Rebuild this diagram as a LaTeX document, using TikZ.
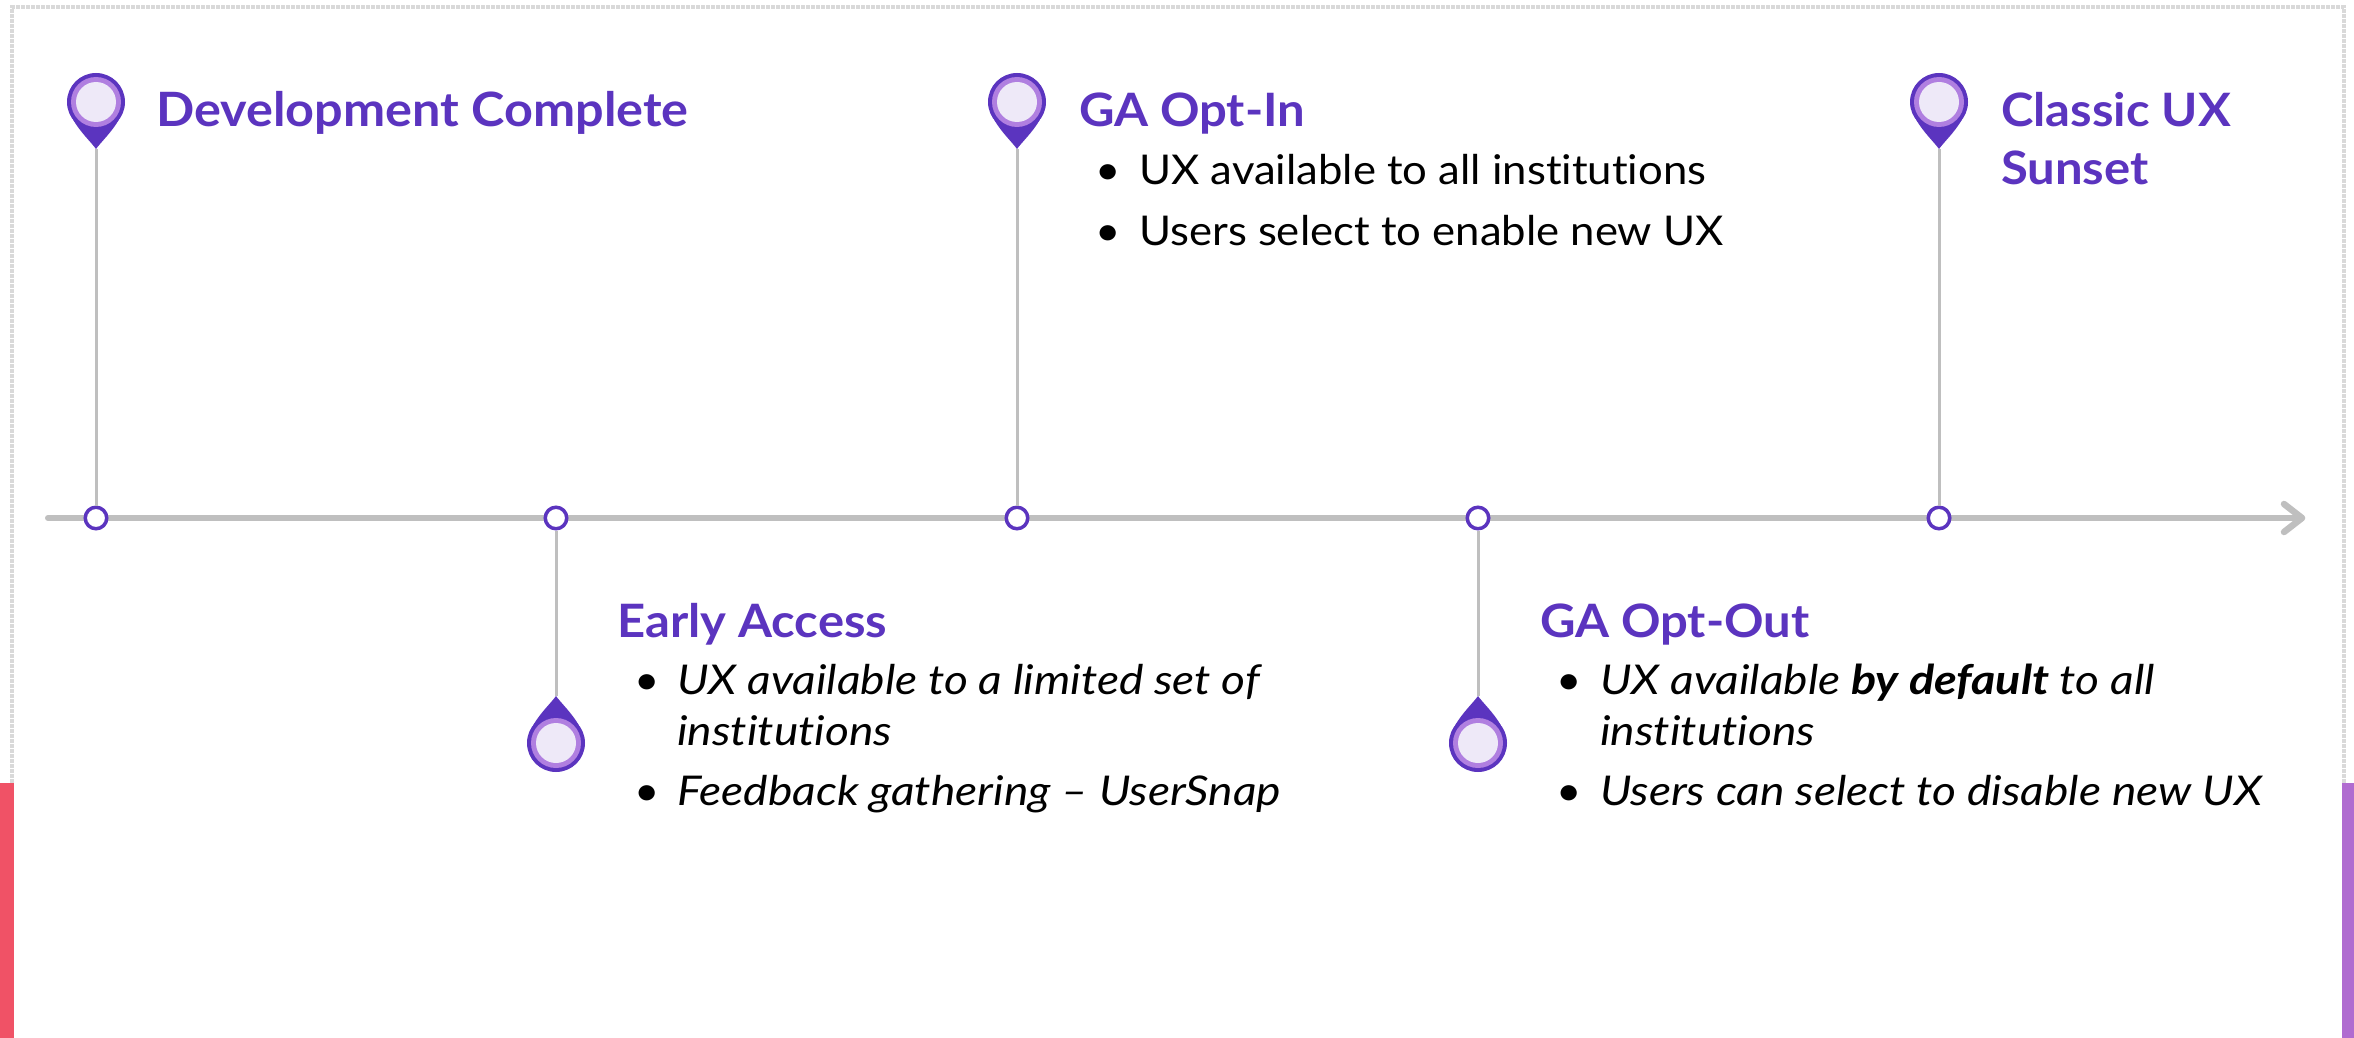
\documentclass[tikz,border=0pt]{standalone}
\usepackage{fontspec}
\setmainfont[FakeStretch=1.065,RawFeature={-liga},ItalicFeatures={FakeStretch=1.125},BoldItalicFeatures={FakeStretch=1.14}]{Lato}
\definecolor{pindark}{HTML}{5B34BF}
\definecolor{pinmid}{HTML}{B07FE0}
\definecolor{pinlight}{HTML}{EEE9F8}
\definecolor{axisgrey}{HTML}{BFBFBF}
\definecolor{bandred}{HTML}{F05266}
\definecolor{bandpurple}{HTML}{B06CD0}
\tikzset{
  headtext/.style={anchor=base west,inner sep=0pt,text=pindark,font=\fontsize{46}{46}\selectfont\bfseries},
  headlong/.style={headtext,font=\fontsize{47.3}{47}\selectfont\bfseries},
  bodytext/.style={anchor=base west,inner sep=0pt,text=black,font=\fontsize{41}{41}\selectfont},
  bultext/.style={anchor=base west,inner sep=0pt,text=black,font=\fontsize{41}{41}\selectfont},
  tickdot/.style={circle,draw=pindark,fill=white,line width=3.5pt,minimum size=21.5pt,inner sep=0pt},
  stem/.style={draw=axisgrey,line width=3pt},
  pinshape/.pic={
    \fill[pindark] (0,47) .. controls (-5,40) and (-15,31) .. (-22.8,17.9) -- (22.8,17.9) .. controls (15,31) and (5,40) .. (0,47) -- cycle;
    \fill[pindark] (0,0) circle (29);
    \fill[pinmid] (0,0) circle (25);
    \fill[pinlight] (0,0) circle (20);
  }
}
\begin{document}
\begin{tikzpicture}[x=1pt,y=-1pt]
\useasboundingbox (0,0) rectangle (2354,1038);
\fill[white] (0,0) rectangle (2354,1038);
% frame
\draw[gray!30,line width=4pt,densely dotted] (12,783) -- (12,7) -- (2344,7) -- (2344,783);
\fill[bandred] (0,783) rectangle (14,1038);
\fill[bandpurple] (2342,783) rectangle (2354,1038);
% axis
\coordinate (axisstart) at (48,518);
\coordinate (axisend) at (2302,518);
\coordinate (headA) at (2284,504);
\coordinate (headB) at (2284,532);
\draw[axisgrey,line width=6pt,line cap=round] (axisstart) -- (axisend);
\draw[axisgrey,line width=6.5pt,line cap=round,line join=round] (headA) -- (axisend) -- (headB);
% pin tips
\coordinate (tipA) at (96,149);
\coordinate (tipB) at (556,696);
\coordinate (tipC) at (1017,149);
\coordinate (tipD) at (1478,696);
\coordinate (tipE) at (1939,149);
% tick dots
\node[tickdot] (tickA) at (96,518) {};
\node[tickdot] (tickB) at (556,518) {};
\node[tickdot] (tickC) at (1017,518) {};
\node[tickdot] (tickD) at (1478,518) {};
\node[tickdot] (tickE) at (1939,518) {};
% stems
\draw[stem] (tickA) -- (tipA);
\draw[stem] (tickB) -- (tipB);
\draw[stem] (tickC) -- (tipC);
\draw[stem] (tickD) -- (tipD);
\draw[stem] (tickE) -- (tipE);
% pins
\pic at (96,102) {pinshape};
\pic at (1017,102) {pinshape};
\pic at (1939,102) {pinshape};
\pic[yscale=-1] at (556,743) {pinshape};
\pic[yscale=-1] at (1478,743) {pinshape};
% text
\node[headlong] (devhead) at (156,127) {Development Complete};
\node[headtext] (opthead) at (1079,127) {GA Opt-In};
\node[bultext] (b1) at (1095,185) {•};
\node[bodytext] (t1) at (1139,185) {UX available to all institutions};
\node[bultext] (b2) at (1095,245) {•};
\node[bodytext] (t2) at (1139,245) {Users select to enable new UX};
\node[headtext] (sunA) at (2001,127) {Classic UX};
\node[headtext] (sunB) at (2001,185) {Sunset};
\node[headtext] (earlyhead) at (617,637) {Early Access};
\node[bultext] (b3) at (634,694) {•};
\node[bodytext] (t3) at (677,694) {\itshape UX available to a limited set of};
\node[bodytext] (t4) at (677,745) {\itshape institutions};
\node[bultext] (b4) at (634,805) {•};
\node[bodytext] (t5) at (677,805) {\itshape Feedback gathering – UserSnap};
\node[headtext] (outhead) at (1540,637) {GA Opt-Out};
\node[bultext] (b5) at (1556,694) {•};
\node[bodytext] (t6) at (1600,694) {\itshape UX available {\bfseries by default} to all};
\node[bodytext] (t7) at (1600,745) {\itshape institutions};
\node[bultext] (b6) at (1556,805) {•};
\node[bodytext] (t8) at (1600,805) {\itshape Users can select to disable new UX};
\end{tikzpicture}
\end{document}
